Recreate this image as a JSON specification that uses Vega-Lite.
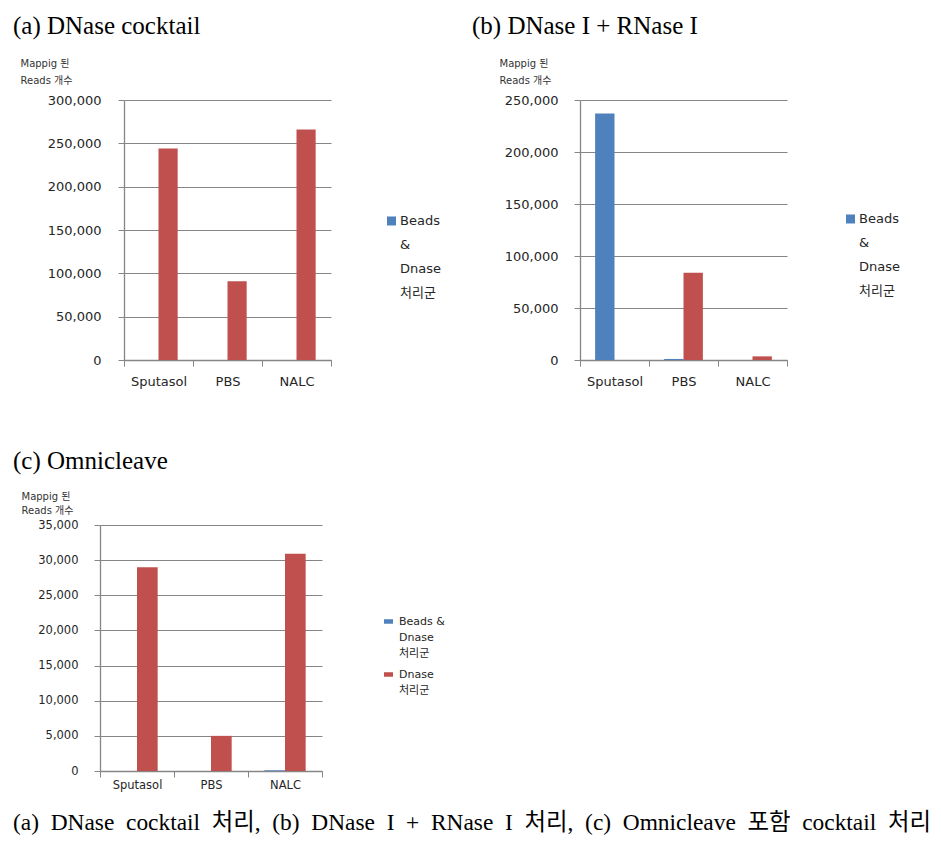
{
  "$schema": "https://vega.github.io/schema/vega-lite/v6.json",
  "background": "white",
  "padding": {"left": 13, "top": 14, "right": 5, "bottom": 5},
  "data": {
    "values": [
      {"panel": "a", "sample": "Sputasol", "group": "Beads & Dnase 처리군", "reads": 0},
      {"panel": "a", "sample": "PBS", "group": "Beads & Dnase 처리군", "reads": 0},
      {"panel": "a", "sample": "NALC", "group": "Beads & Dnase 처리군", "reads": 0},
      {"panel": "a", "sample": "Sputasol", "group": "Dnase 처리군", "reads": 244000},
      {"panel": "a", "sample": "PBS", "group": "Dnase 처리군", "reads": 91000},
      {"panel": "a", "sample": "NALC", "group": "Dnase 처리군", "reads": 266000},
      {"panel": "b", "sample": "Sputasol", "group": "Beads & Dnase 처리군", "reads": 237000},
      {"panel": "b", "sample": "PBS", "group": "Beads & Dnase 처리군", "reads": 1000},
      {"panel": "b", "sample": "NALC", "group": "Beads & Dnase 처리군", "reads": 0},
      {"panel": "b", "sample": "Sputasol", "group": "Dnase 처리군", "reads": 0},
      {"panel": "b", "sample": "PBS", "group": "Dnase 처리군", "reads": 84000},
      {"panel": "b", "sample": "NALC", "group": "Dnase 처리군", "reads": 3500},
      {"panel": "c", "sample": "Sputasol", "group": "Beads & Dnase 처리군", "reads": 0},
      {"panel": "c", "sample": "PBS", "group": "Beads & Dnase 처리군", "reads": 0},
      {"panel": "c", "sample": "NALC", "group": "Beads & Dnase 처리군", "reads": 100},
      {"panel": "c", "sample": "Sputasol", "group": "Dnase 처리군", "reads": 29000},
      {"panel": "c", "sample": "PBS", "group": "Dnase 처리군", "reads": 5000},
      {"panel": "c", "sample": "NALC", "group": "Dnase 처리군", "reads": 30900}
    ]
  },
  "title": {
    "text": "(a)\u00a0 DNase\u00a0 cocktail\u00a0 처리,\u00a0 (b)\u00a0 DNase\u00a0 I\u00a0 +\u00a0 RNase\u00a0 I\u00a0 처리,\u00a0 (c)\u00a0 Omnicleave\u00a0 포함\u00a0 cocktail\u00a0 처리",
    "orient": "bottom",
    "anchor": "start",
    "font": "Liberation Serif, Noto Sans CJK KR",
    "fontSize": 23.4,
    "fontWeight": "normal",
    "color": "#000000",
    "offset": 21
  },
  "columns": 1,
  "align": "none",
  "spacing": 61,
  "resolve": {"scale": {"color": "independent", "x": "independent", "y": "independent", "xOffset": "independent"}, "legend": {"color": "independent"}},
  "concat": [
    {
      "hconcat": [
        {"width": 24, "height": 260, "data": {"values": []}, "mark": {"type": "point"}},
        {
          "hconcat": [
            {
              "transform": [{"filter": "datum.panel == 'a'"}],
              "width": 207,
              "height": 260,
              "title": {"text": "(a) DNase cocktail", "anchor": "start", "frame": "group", "dx": -111, "offset": 19},
              "mark": {"type": "bar"},
              "encoding": {
                "x": {"field": "sample", "type": "nominal", "sort": ["Sputasol", "PBS", "NALC"], "scale": {"paddingInner": 0, "paddingOuter": 0},
                      "axis": {"title": null, "labelAngle": 0, "tickBand": "extent", "tickSize": 6, "labelPadding": 9, "labelFontSize": 13, "grid": false}},
                "xOffset": {"field": "group", "type": "nominal", "sort": ["Beads & Dnase 처리군", "Dnase 처리군"], "scale": {"paddingInner": 0, "paddingOuter": 0.8}},
                "y": {"field": "reads", "type": "quantitative", "scale": {"domain": [0, 300000], "nice": false},
                      "axis": {"values": [0, 50000, 100000, 150000, 200000, 250000, 300000], "format": ",d", "tickSize": 6, "labelPadding": 17, "labelFontSize": 13,
                               "title": ["Mappig 된", "Reads 개수"], "titleAngle": 0, "titleAlign": "left", "titleBaseline": "middle", "titleX": -104, "titleY": -37, "titleFontSize": 10, "titleLineHeight": 17}},
                "color": {"field": "group", "type": "nominal", "scale": {"domain": ["Beads & Dnase 처리군", "Dnase 처리군"], "range": ["#4F81BD", "#C0504D"]},
                          "legend": {"values": ["Beads & Dnase 처리군"], "orient": "none", "legendX": 261, "legendY": 108, "title": null, "labelExpr": "['Beads', '\u2800', '\u2800', '&', '\u2800', '\u2800', 'Dnase', '\u2800', '\u2800', '처리군']", "labelFontSize": 13, "labelBaseline": "top", "symbolType": "M-1,0.44H1V2.44H-1Z", "symbolSize": 81, "labelOffset": 2}}
              }
            },
            {
              "transform": [{"filter": "datum.panel == 'b'"}],
              "width": 207,
              "height": 260,
              "title": {"text": "(b) DNase I + RNase I", "anchor": "start", "frame": "group", "dx": -108, "offset": 19},
              "mark": {"type": "bar"},
              "encoding": {
                "x": {"field": "sample", "type": "nominal", "sort": ["Sputasol", "PBS", "NALC"], "scale": {"paddingInner": 0, "paddingOuter": 0},
                      "axis": {"title": null, "labelAngle": 0, "tickBand": "extent", "tickSize": 6, "labelPadding": 9, "labelFontSize": 13, "grid": false}},
                "xOffset": {"field": "group", "type": "nominal", "sort": ["Beads & Dnase 처리군", "Dnase 처리군"], "scale": {"paddingInner": 0, "paddingOuter": 0.78}},
                "y": {"field": "reads", "type": "quantitative", "scale": {"domain": [0, 250000], "nice": false},
                      "axis": {"values": [0, 50000, 100000, 150000, 200000, 250000], "format": ",d", "tickSize": 6, "labelPadding": 16, "labelFontSize": 13,
                               "title": ["Mappig 된", "Reads 개수"], "titleAngle": 0, "titleAlign": "left", "titleBaseline": "middle", "titleX": -81, "titleY": -37, "titleFontSize": 10, "titleLineHeight": 17}},
                "color": {"field": "group", "type": "nominal", "scale": {"domain": ["Beads & Dnase 처리군", "Dnase 처리군"], "range": ["#4F81BD", "#C0504D"]},
                          "legend": {"values": ["Beads & Dnase 처리군"], "orient": "none", "legendX": 264, "legendY": 106, "title": null, "labelExpr": "['Beads', '\u2800', '\u2800', '&', '\u2800', '\u2800', 'Dnase', '\u2800', '\u2800', '처리군']", "labelFontSize": 13, "labelBaseline": "top", "symbolType": "M-1,0.44H1V2.44H-1Z", "symbolSize": 81, "labelOffset": 2}}
              }
            }
          ],
          "bounds": "flush",
          "spacing": 249,
          "resolve": {"scale": {"color": "independent", "x": "independent", "y": "independent", "xOffset": "independent"}, "legend": {"color": "independent"}}
        }
      ],
      "bounds": "flush",
      "spacing": 0,
      "resolve": {"scale": {"color": "independent", "x": "independent", "y": "independent", "xOffset": "independent"}, "legend": {"color": "independent"}}
    },
    {
      "transform": [{"filter": "datum.panel == 'c'"}],
      "width": 222,
      "height": 246,
      "title": {"text": "(c) Omnicleave", "anchor": "start", "frame": "group", "dx": -87, "offset": 17},
      "mark": {"type": "bar"},
      "encoding": {
        "x": {"field": "sample", "type": "nominal", "sort": ["Sputasol", "PBS", "NALC"], "scale": {"paddingInner": 0, "paddingOuter": 0},
              "axis": {"title": null, "labelAngle": 0, "tickBand": "extent", "tickSize": 6, "labelPadding": 2, "labelFontSize": 11.5, "grid": false}},
        "xOffset": {"field": "group", "type": "nominal", "sort": ["Beads & Dnase 처리군", "Dnase 처리군"], "scale": {"paddingInner": 0, "paddingOuter": 0.79}},
        "y": {"field": "reads", "type": "quantitative", "scale": {"domain": [0, 35000], "nice": false},
              "axis": {"values": [0, 5000, 10000, 15000, 20000, 25000, 30000, 35000], "format": ",d", "tickSize": 6, "labelPadding": 16, "labelFontSize": 11.5,
                       "title": ["Mappig 된", "Reads 개수"], "titleAngle": 0, "titleAlign": "left", "titleBaseline": "middle", "titleX": -79, "titleY": -29, "titleFontSize": 10, "titleLineHeight": 14}},
        "color": {"field": "group", "type": "nominal", "scale": {"domain": ["Beads & Dnase 처리군", "Dnase 처리군"], "range": ["#4F81BD", "#C0504D"]},
                  "legend": {"orient": "none", "legendX": 283, "legendY": 85, "title": null, "labelExpr": "datum.label == 'Dnase 처리군' ? ['Dnase', '\u2800', '처리군'] : ['Beads &', '\u2800', 'Dnase', '\u2800', '처리군']", "labelFontSize": 11, "labelBaseline": "top", "symbolType": "M-1,0.83H1V1.83H-1Z", "symbolSize": 81, "labelOffset": 5, "rowPadding": 4}}
      }
    }
  ],
  "config": {
    "view": {"stroke": null},
    "font": "DejaVu Sans, Noto Sans CJK KR",
    "style": {"guide-label": {"lineHeight": 8}},
    "title": {"font": "Liberation Serif, Noto Sans CJK KR", "fontSize": 25, "fontWeight": "normal", "color": "#000000"},
    "axis": {"labelFont": "DejaVu Sans, Noto Sans CJK KR", "titleFont": "DejaVu Sans, Noto Sans CJK KR", "titleFontWeight": "normal",
             "labelColor": "#262626", "titleColor": "#333333", "domainColor": "#868686", "tickColor": "#868686", "gridColor": "#868686", "gridOpacity": 1, "domainWidth": 1.3, "gridWidth": 1},
    "legend": {"labelFont": "DejaVu Sans, Noto Sans CJK KR", "labelColor": "#262626", "padding": 0, "symbolStrokeWidth": 0, "symbolOpacity": 1, "labelLimit": 200}
  }
}
